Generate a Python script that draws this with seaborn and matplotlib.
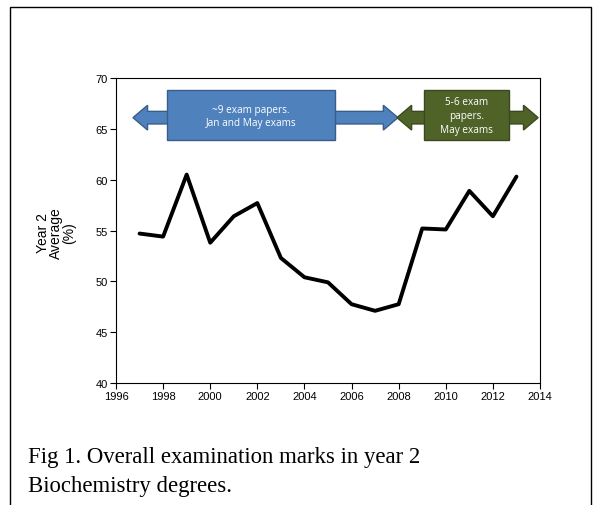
import matplotlib
matplotlib.use("Agg")
import matplotlib.pyplot as plt
import seaborn as sns
import pandas as pd
from matplotlib.patches import Polygon, Rectangle

years = [1997, 1998, 1999, 2000, 2001, 2002, 2003, 2004, 2005, 2006, 2007, 2008,
         2009, 2010, 2011, 2012, 2013]
averages = [54.7, 54.4, 60.5, 53.8, 56.4, 57.7, 52.3, 50.4, 49.9, 47.75, 47.1, 47.75,
            55.2, 55.1, 58.9, 56.4, 60.3]
x_ticks = [1996, 1998, 2000, 2002, 2004, 2006, 2008, 2010, 2012, 2014]
y_ticks = [40, 45, 50, 55, 60, 65, 70]
blue_text = "~9 exam papers.\nJan and May exams"
green_text = "5-6 exam\npapers.\nMay exams"
caption_lines = ["Fig 1. Overall examination marks in year 2", "Biochemistry degrees."]
ylabel = "Year 2\nAverage\n(%)"

df = pd.DataFrame({"year": years, "avg": averages})

sns.set_style("white")
plt.rcParams["font.family"] = ["Liberation Sans", "DejaVu Sans"]
plt.rcParams["text.color"] = "black"

W, H = 597, 506
fig = plt.figure(figsize=(W / 100, H / 100), dpi=100)
ax = fig.add_axes([116 / W, 1 - 384 / H, (540 - 116) / W, (384 - 79) / H])

sns.lineplot(data=df, x="year", y="avg", ax=ax, color="black", linewidth=2.8)

ax.set_xlim(1996, 2014)
ax.set_ylim(40, 70)
ax.set_xticks(x_ticks)
ax.set_yticks(y_ticks)
ax.tick_params(axis="both", which="both", direction="out", length=4, width=0.8,
               labelsize=8, bottom=True, left=True, colors="black", pad=2)
for s in ax.spines.values():
    s.set_visible(True)
    s.set_color("black")
    s.set_linewidth(0.8)
ax.set_xlabel("")
ax.set_ylabel("")
fig.text(56 / W, 1 - 233 / H, ylabel, rotation=90, ha="center", va="center",
         fontsize=10, linespacing=0.95, color="black")


def double_arrow(ax, x0, x1, yc, shaft_h, head_h, head_l, fc, ec):
    pts = [
        (x0, yc),
        (x0 + head_l, yc + head_h),
        (x0 + head_l, yc + shaft_h),
        (x1 - head_l, yc + shaft_h),
        (x1 - head_l, yc + head_h),
        (x1, yc),
        (x1 - head_l, yc - head_h),
        (x1 - head_l, yc - shaft_h),
        (x0 + head_l, yc - shaft_h),
        (x0 + head_l, yc - head_h),
    ]
    ax.add_patch(Polygon(pts, closed=True, facecolor=fc, edgecolor=ec, linewidth=1.0,
                         zorder=3, clip_on=False))


blue_fc, blue_ec = "#4F81BD", "#385D8A"
green_fc, green_ec = "#4F6228", "#3B4A1E"
yc = 66.1
double_arrow(ax, 1996.72, 2007.97, yc, 0.62, 1.22, 0.62, blue_fc, blue_ec)
ax.add_patch(Rectangle((1998.17, 63.9), 2005.3 - 1998.17, 68.82 - 63.9,
                       facecolor=blue_fc, edgecolor=blue_ec, linewidth=1.0, zorder=4))
ax.text((1998.17 + 2005.3) / 2, 66.25, blue_text, ha="center", va="center", color="white",
        fontsize=7.2, family=["Open Sans", "DejaVu Sans"], zorder=5, linespacing=1.3)

double_arrow(ax, 2007.93, 2013.92, yc, 0.62, 1.22, 0.62, green_fc, green_ec)
ax.add_patch(Rectangle((2009.08, 63.9), 2012.69 - 2009.08, 68.82 - 63.9,
                       facecolor=green_fc, edgecolor=green_ec, linewidth=1.0, zorder=4))
ax.text((2009.08 + 2012.69) / 2, 66.35, green_text, ha="center", va="center", color="white",
        fontsize=7.2, family=["Open Sans", "DejaVu Sans"], zorder=5, linespacing=1.38)

# outer frame
fig.patches.append(Rectangle((10 / W, -0.05), (591 - 10) / W, 1.05 - 8 / H,
                             transform=fig.transFigure, facecolor="none",
                             edgecolor="black", linewidth=1.0))

for i, line in enumerate(caption_lines):
    fig.text(28 / W, 1 - (463 + 29 * i) / H, line, ha="left", va="baseline", fontsize=16.4,
             family=["Liberation Serif", "DejaVu Serif"], color="black")

fig.savefig("out.png", dpi=100)
